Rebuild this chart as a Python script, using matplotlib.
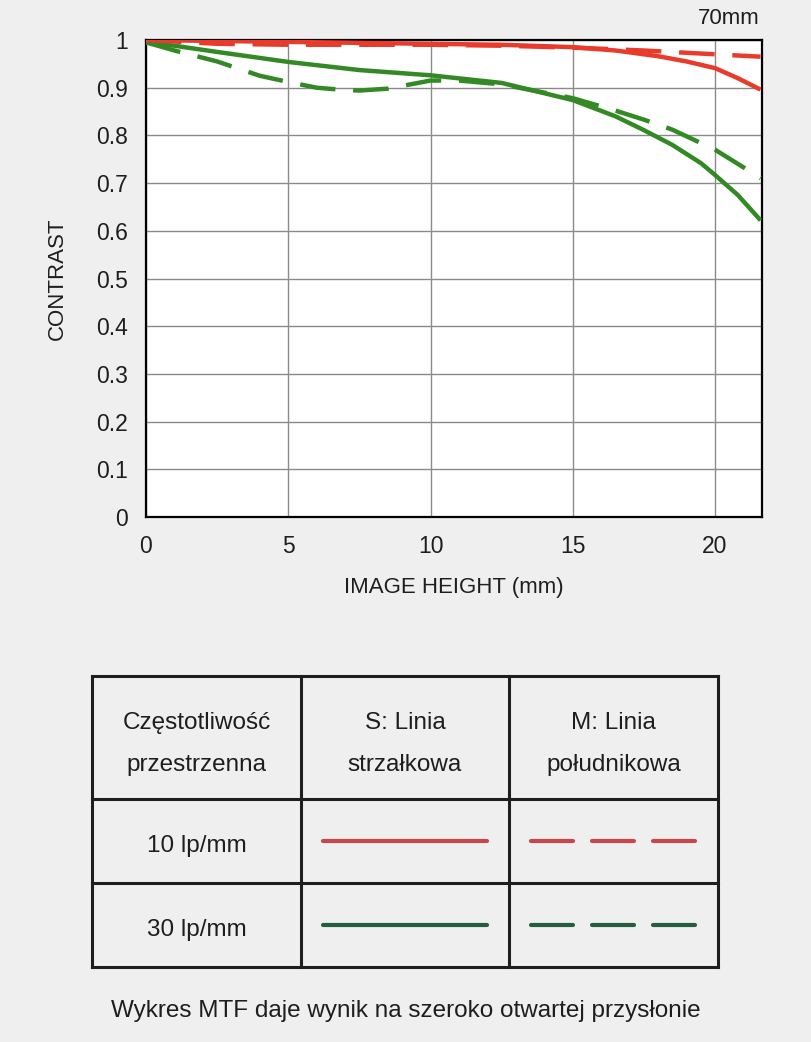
import matplotlib
matplotlib.use("Agg")
import matplotlib.pyplot as plt
from matplotlib.lines import Line2D

plt.rcParams['font.family'] = ['Liberation Sans', 'DejaVu Sans']

# ---- data ----
x_10s = [0, 2.5, 5, 7.5, 10, 12.5, 15, 16.5, 18, 19, 20, 20.8, 21.6]
y_10s = [1.0, 0.998, 0.996, 0.994, 0.992, 0.990, 0.985, 0.978, 0.966, 0.955, 0.941, 0.920, 0.896]

x_10m = [0, 2.5, 5, 7.5, 10, 12.5, 15, 17.5, 20, 21.6]
y_10m = [1.0, 0.992, 0.990, 0.990, 0.990, 0.988, 0.984, 0.978, 0.970, 0.965]

x_30s = [0, 1, 2.5, 5, 7.5, 10, 12.5, 15, 16.5, 17.5, 18.5, 19.5, 20, 20.8, 21.6]
y_30s = [0.995, 0.988, 0.975, 0.954, 0.937, 0.926, 0.910, 0.874, 0.840, 0.811, 0.780, 0.742, 0.717, 0.675, 0.622]

x_30m = [0, 1, 2.5, 4, 5, 6, 7, 7.5, 8.5, 10, 11, 12.5, 15, 16.5, 17.5, 18.5, 20, 21, 21.6]
y_30m = [0.995, 0.978, 0.955, 0.925, 0.912, 0.900, 0.895, 0.894, 0.898, 0.915, 0.915, 0.907, 0.878, 0.852, 0.833, 0.812, 0.770, 0.733, 0.710]

x_ticks = [0, 5, 10, 15, 20]
y_ticks = [0, 0.1, 0.2, 0.3, 0.4, 0.5, 0.6, 0.7, 0.8, 0.9, 1.0]
y_tick_labels = ["0", "0.1", "0.2", "0.3", "0.4", "0.5", "0.6", "0.7", "0.8", "0.9", "1"]

freq_labels = ["10 lp/mm", "30 lp/mm"]
header_labels = ["Częstotliwość\nprzestrzenna", "S: Linia\nstrzałkowa", "M: Linia\npołudnikowa"]

RED = "#ea3a2b"
GREEN = "#338a25"
RED_LEG = "#c8464c"
GREEN_LEG = "#255e3c"
BG = "#efefef"
TXT = "#1e1e1e"

W, H = 812, 1042
fig = plt.figure(figsize=(W / 100, H / 100), dpi=100, facecolor=BG)

# ---- MTF chart ----
ax = fig.add_axes([146 / W, 1 - 517 / H, (762 - 146) / W, (517 - 40) / H])
ax.set_facecolor("white")
lw = 3.2
ax.plot(x_10s, y_10s, color=RED, lw=lw, solid_capstyle='butt', zorder=4)
ax.plot(x_10m, y_10m, color=RED, lw=lw, dashes=(8, 4), zorder=4)
ax.plot(x_30s, y_30s, color=GREEN, lw=lw, solid_capstyle='butt', zorder=3)
ax.plot(x_30m, y_30m, color=GREEN, lw=lw, dashes=(8, 4), zorder=3)

ax.set_xlim(0, 21.65)
ax.set_ylim(0, 1)
ax.set_xticks(x_ticks)
ax.set_xticklabels([str(t) for t in x_ticks])
ax.set_yticks(y_ticks)
ax.set_yticklabels(y_tick_labels)
ax.tick_params(length=0, labelsize=16.5, pad=13, colors=TXT)
ax.tick_params(axis='y', pad=13)
ax.grid(True, color="#8a8a8a", lw=1.0)
for s in ax.spines.values():
    s.set_color("black")
    s.set_linewidth(1.6)
ax.set_xlabel("IMAGE HEIGHT (mm)", fontsize=16, labelpad=14, color=TXT)
ax.set_ylabel("CONTRAST", fontsize=16, labelpad=20, color=TXT)
ax.set_axisbelow(True)

fig.text(760 / W, 1 - 18 / H, "70mm", ha="right", va="center", fontsize=16, color=TXT)

# ---- table (overlay axes in pixel coords) ----
ov = fig.add_axes([0, 0, 1, 1], facecolor="none")
ov.set_xlim(0, W)
ov.set_ylim(H, 0)
ov.axis("off")

tx0, tx1 = 92, 718
ty0, ty1 = 676, 967
cols = [tx0, 301, 509, tx1]
rows = [ty0, 799, 883, ty1]
tcol = "#1e1e1e"
tlw = 2.2
for cx in cols:
    ov.add_line(Line2D([cx, cx], [ty0, ty1], color=tcol, lw=tlw, solid_capstyle='projecting'))
for ry in rows:
    ov.add_line(Line2D([tx0, tx1], [ry, ry], color=tcol, lw=tlw, solid_capstyle='projecting'))

centers_x = [(cols[i] + cols[i + 1]) / 2 for i in range(3)]
for cx, lab in zip(centers_x, header_labels):
    ov.text(cx, 744, lab, ha="center", va="center",
            fontsize=17.5, linespacing=2.15, color=TXT)

row_centers = [(rows[1] + rows[2]) / 2, (rows[2] + rows[3]) / 2]
leg_colors = [RED_LEG, GREEN_LEG]
for rc, lab, c in zip(row_centers, freq_labels, leg_colors):
    ov.text(centers_x[0], rc + 5, lab, ha="center", va="center", fontsize=17.5, color=TXT)
    ov.add_line(Line2D([323, 487], [rc, rc], color=c, lw=3, solid_capstyle='round'))
    for a, b in [(531, 573), (592, 634), (653, 695)]:
        ov.add_line(Line2D([a, b], [rc, rc], color=c, lw=3, solid_capstyle='round'))

ov.text(W / 2, 1011, "Wykres MTF daje wynik na szeroko otwartej przysłonie",
        ha="center", va="center", fontsize=17.5, color=TXT)

fig.savefig("out.png", dpi=100, facecolor=BG)
